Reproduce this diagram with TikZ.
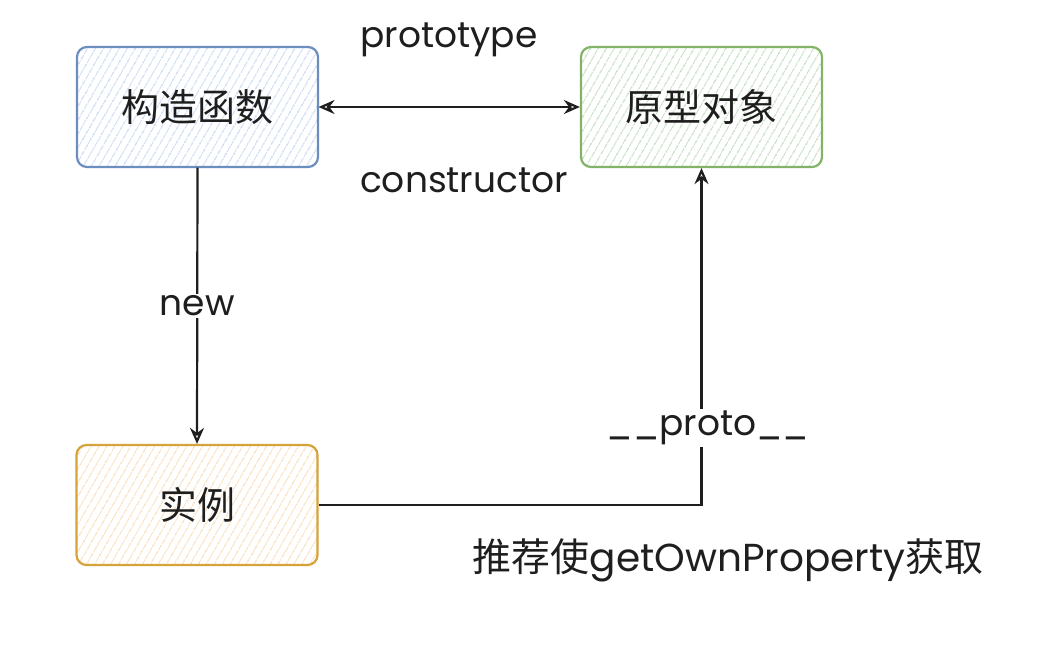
\documentclass[tikz,border=0pt]{standalone}
\usepackage{fontspec}
\setmainfont{Poppins}
\newfontfamily\cjk{Noto Sans CJK SC}
\usetikzlibrary{arrows.meta,patterns.meta}
\definecolor{blueS}{HTML}{6C8EBF}
\definecolor{blueF}{HTML}{C9DAF5}
\definecolor{greenS}{HTML}{82B366}
\definecolor{greenF}{HTML}{C3DEC1}
\definecolor{orangeS}{HTML}{D6A23A}
\definecolor{orangeF}{HTML}{FBDDBC}
\definecolor{ink}{HTML}{1E1E1E}
\begin{document}
\begin{tikzpicture}[x=1pt,y=-1pt,
  box/.style={rounded corners=10pt, line width=2.2pt, minimum width=241pt, minimum height=120pt,
    inner sep=0pt, text=ink, font=\cjk\fontsize{38}{44}\selectfont},
  hatchbox/.style n args={2}{box, draw=#1, pattern={Lines[angle=60,distance=6.5pt,line width=1.1pt]}, pattern color=#2},
  lbl/.style={text=ink, font=\fontsize{36}{42}\selectfont, inner sep=2pt},
  conn/.style={draw=ink, line width=2.2pt},
  tip/.style={-{Stealth[open,length=16pt,width=14pt]}},
  bitip/.style={{Stealth[open,length=16pt,width=14pt]}-{Stealth[open,length=16pt,width=14pt]}}
]
\useasboundingbox (0,0) rectangle (1042,646);
\node[hatchbox={blueS}{blueF}] (ctor) at (197.5,107) {构造函数};
\node[hatchbox={greenS}{greenF}] (proto) at (701.5,107) {原型对象};
\node[hatchbox={orangeS}{orangeF}] (inst) at (197,505) {实例};

\draw[conn,bitip] (ctor.east) -- (proto.west);
\node[lbl] (lproto) at (449,40) {prototype};
\node[lbl] (lctor) at (464,180) {constructor};

\draw[conn,tip] (ctor.south) -- node[lbl,fill=white] (lnew) {new} (inst.north);

\coordinate (corner) at (proto.south |- inst.east);
\draw[conn,tip] (inst.east) -- (corner) -- (proto.south);
\node[lbl,fill=white,inner xsep=0pt] (lunder) at (708,428) {\_\_proto\_\_};

\node[lbl,font=\fontsize{39}{45}\selectfont] (note) at (728,560) {{\cjk 推荐使}getOwnProperty{\cjk 获取}};
\end{tikzpicture}
\end{document}
